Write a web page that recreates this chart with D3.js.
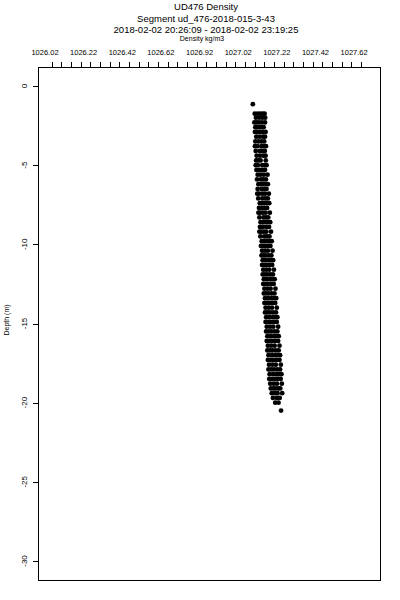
<!DOCTYPE html>
<html>
<head>
<meta charset="utf-8">
<title>UD476 Density</title>
<style>
  body { margin: 0; background: #fff; }
  svg text { font-family: "Liberation Sans", Arial, sans-serif; fill: #000; }
</style>
<script src="https://cdn.jsdelivr.net/npm/d3@7"></script>
</head>
<body>
<script>
// titles
var titleLines = ["UD476 Density", "Segment ud_476-2018-015-3-43", "2018-02-02 20:26:09 - 2018-02-02 23:19:25"];
var xTitle = "Density kg/m3";
var yTitle = "Depth (m)";

// top axis labels (as printed) and their values
var xLabelVals = [1026.02, 1026.22, 1026.42, 1026.62, 1026.82, 1027.02, 1027.22, 1027.42, 1027.62];
var xLabelText = ["1026.02", "1026.22", "1026.42", "1026.62", "1026.92", "1027.02", "1027.22", "1027.42", "1027.62"];
var yTickVals = [0, -5, -10, -15, -20, -25, -30];

// profile samples: one depth per row, densities observed near that depth
var depths = [-1.15, -1.75, -2.0, -2.3, -2.6, -2.9, -3.2, -3.5, -3.8, -4.1, -4.4, -4.7, -5.0, -5.3, -5.6, -5.9,
  -6.2, -6.5, -6.8, -7.1, -7.4, -7.7, -8.0, -8.3, -8.6, -8.9, -9.2, -9.5, -9.8, -10.1, -10.4, -10.7,
  -11.0, -11.3, -11.6, -11.9, -12.2, -12.5, -12.8, -13.1, -13.4, -13.7, -14.0, -14.3, -14.6, -14.9,
  -15.2, -15.5, -15.8, -16.1, -16.4, -16.7, -17.0, -17.3, -17.6, -17.9, -18.2, -18.5, -18.8, -19.1,
  -19.4, -19.7, -20.0, -20.5];
var densities = [
  [1027.061],
  [1027.071, 1027.086, 1027.099, 1027.112, 1027.122],
  [1027.077, 1027.094, 1027.110, 1027.125],
  [1027.069, 1027.081, 1027.093, 1027.108, 1027.124],
  [1027.074, 1027.081, 1027.095, 1027.107, 1027.117],
  [1027.072, 1027.085, 1027.098, 1027.113, 1027.127],
  [1027.079, 1027.096, 1027.113, 1027.124],
  [1027.074, 1027.090, 1027.106, 1027.120],
  [1027.072, 1027.084, 1027.105, 1027.118, 1027.129],
  [1027.076, 1027.097, 1027.110, 1027.123],
  [1027.081, 1027.098, 1027.115, 1027.127],
  [1027.078, 1027.089, 1027.101, 1027.128],
  [1027.076, 1027.087, 1027.110, 1027.122, 1027.132],
  [1027.080, 1027.095, 1027.109, 1027.124],
  [1027.086, 1027.101, 1027.118, 1027.137],
  [1027.083, 1027.103, 1027.116, 1027.129],
  [1027.090, 1027.102, 1027.113, 1027.126, 1027.139],
  [1027.086, 1027.106, 1027.120, 1027.132],
  [1027.084, 1027.093, 1027.110, 1027.124, 1027.144],
  [1027.089, 1027.110, 1027.126, 1027.139],
  [1027.097, 1027.108, 1027.119, 1027.134, 1027.146],
  [1027.093, 1027.108, 1027.122, 1027.135],
  [1027.090, 1027.099, 1027.113, 1027.127, 1027.149],
  [1027.095, 1027.116, 1027.129, 1027.141],
  [1027.101, 1027.112, 1027.123, 1027.137, 1027.151],
  [1027.098, 1027.113, 1027.131, 1027.145],
  [1027.095, 1027.104, 1027.118, 1027.131, 1027.155],
  [1027.100, 1027.120, 1027.134, 1027.147],
  [1027.107, 1027.121, 1027.135, 1027.147, 1027.159],
  [1027.103, 1027.114, 1027.125, 1027.140, 1027.152],
  [1027.109, 1027.124, 1027.139, 1027.163],
  [1027.106, 1027.117, 1027.128, 1027.143, 1027.157],
  [1027.112, 1027.127, 1027.142, 1027.154, 1027.166],
  [1027.109, 1027.120, 1027.132, 1027.147, 1027.161],
  [1027.115, 1027.130, 1027.146, 1027.170],
  [1027.112, 1027.124, 1027.136, 1027.151, 1027.165],
  [1027.118, 1027.134, 1027.150, 1027.162, 1027.174],
  [1027.115, 1027.127, 1027.139, 1027.155, 1027.169],
  [1027.121, 1027.137, 1027.153, 1027.178],
  [1027.118, 1027.130, 1027.143, 1027.158, 1027.173],
  [1027.124, 1027.140, 1027.157, 1027.170, 1027.182],
  [1027.121, 1027.134, 1027.147, 1027.162, 1027.177],
  [1027.127, 1027.143, 1027.160, 1027.185],
  [1027.124, 1027.137, 1027.150, 1027.166, 1027.181],
  [1027.130, 1027.147, 1027.164, 1027.176, 1027.188],
  [1027.127, 1027.140, 1027.153, 1027.169, 1027.185],
  [1027.133, 1027.150, 1027.167, 1027.192],
  [1027.130, 1027.143, 1027.157, 1027.173, 1027.188],
  [1027.136, 1027.153, 1027.170, 1027.183, 1027.195],
  [1027.133, 1027.146, 1027.160, 1027.176, 1027.192],
  [1027.139, 1027.156, 1027.174, 1027.199],
  [1027.136, 1027.150, 1027.164, 1027.180, 1027.195],
  [1027.142, 1027.160, 1027.177, 1027.190, 1027.202],
  [1027.139, 1027.153, 1027.167, 1027.183, 1027.199],
  [1027.145, 1027.163, 1027.180, 1027.206],
  [1027.142, 1027.156, 1027.171, 1027.187, 1027.202],
  [1027.148, 1027.166, 1027.183, 1027.196, 1027.209],
  [1027.146, 1027.160, 1027.175, 1027.190, 1027.205],
  [1027.151, 1027.169, 1027.186, 1027.211],
  [1027.154, 1027.167, 1027.179, 1027.192, 1027.203],
  [1027.159, 1027.174, 1027.189, 1027.213],
  [1027.165, 1027.185, 1027.200],
  [1027.177, 1027.194],
  [1027.207]
];

var W = 400, H = 600;
var box = {left: 38, right: 380, top: 67, bottom: 580};

// 1026.02 sits at x=51.7, 9.66px per 0.05
var x = d3.scaleLinear()
  .domain([1026.02, 1027.62])
  .range([51.7, 51.7 + 32 * 9.66]);

var y = d3.scaleLinear()
  .domain([0, -30])
  .range([86, 561]);

var svg = d3.select("body").append("svg")
  .attr("width", W)
  .attr("height", H);

// titles
svg.selectAll(".title")
  .data(titleLines).enter()
  .append("text")
  .attr("class", "title")
  .attr("x", 206)
  .attr("y", (d, i) => 10 + i * 11.5)
  .attr("text-anchor", "middle")
  .style("font-size", "9.5px")
  .text(d => d);

svg.append("text")
  .attr("x", 202)
  .attr("y", 40.5)
  .attr("text-anchor", "middle")
  .style("font-size", "7px")
  .text(xTitle);

// plot frame
svg.append("rect")
  .attr("x", box.left + 0.5)
  .attr("y", box.top + 0.5)
  .attr("width", box.right - box.left)
  .attr("height", box.bottom - box.top)
  .attr("fill", "none")
  .attr("stroke", "#000")
  .attr("stroke-width", 1);

// top axis minor ticks every 0.05
var xTickVals = d3.range(0, 33).map(i => 1026.02 + i * 0.05);
svg.selectAll(".xtick")
  .data(xTickVals).enter()
  .append("line")
  .attr("x1", d => Math.round(x(d)) + 0.5)
  .attr("x2", d => Math.round(x(d)) + 0.5)
  .attr("y1", box.top)
  .attr("y2", box.top - 5)
  .attr("stroke", "#000");

svg.selectAll(".xlab")
  .data(xLabelVals).enter()
  .append("text")
  .attr("x", d => x(d) - 6.7)
  .attr("y", 55)
  .attr("text-anchor", "middle")
  .style("font-size", "7.5px")
  .text((d, i) => xLabelText[i]);

// left axis
svg.selectAll(".ytick")
  .data(yTickVals).enter()
  .append("line")
  .attr("x1", box.left - 5)
  .attr("x2", box.left)
  .attr("y1", d => Math.round(y(d)) + 0.5)
  .attr("y2", d => Math.round(y(d)) + 0.5)
  .attr("stroke", "#000");

svg.selectAll(".ylab")
  .data(yTickVals).enter()
  .append("text")
  .attr("transform", d => "translate(27," + y(d) + ") rotate(-90)")
  .attr("text-anchor", "middle")
  .style("font-size", "8px")
  .text(d => d === 0 ? "0" : "-" + Math.abs(d));

svg.append("text")
  .attr("transform", "translate(9,320) rotate(-90)")
  .attr("text-anchor", "middle")
  .style("font-size", "7px")
  .text(yTitle);

// points
var pts = [];
depths.forEach(function(dep, i) {
  densities[i].forEach(function(v) { pts.push({depth: dep, density: v}); });
});

svg.append("g").selectAll("circle")
  .data(pts).enter()
  .append("circle")
  .attr("cx", d => x(d.density))
  .attr("cy", d => y(d.depth))
  .attr("r", 2.4)
  .attr("fill", "#000");
</script>
</body>
</html>
